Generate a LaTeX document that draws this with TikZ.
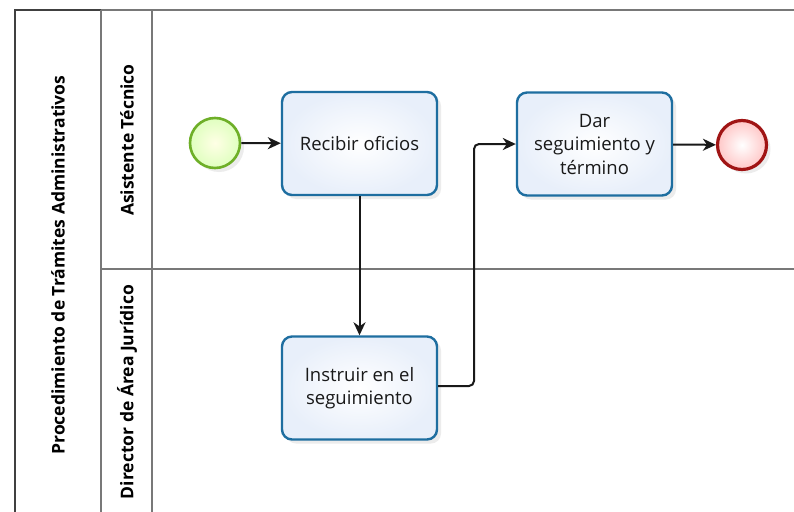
\documentclass[tikz,border=0pt]{standalone}
\usepackage{fontspec}
\setmainfont{Open Sans}
\usetikzlibrary{shadows,arrows.meta}
\definecolor{laneline}{RGB}{120,120,120}
\definecolor{taskblue}{RGB}{30,110,160}
\definecolor{taskfill}{RGB}{232,239,250}
\definecolor{startgreen}{RGB}{110,175,40}
\definecolor{endred}{RGB}{160,20,20}
\begin{document}
\begin{tikzpicture}[x=1pt,y=-1pt,
  lanestroke/.style={draw=laneline,line width=1.8pt},
  taskbox/.style={draw=taskblue,line width=2.4pt,rounded corners=10pt,
    inner color=white,outer color=taskfill,
    minimum width=155pt,minimum height=103pt,align=center,
    font=\fontsize{18.5}{23.5}\selectfont,text=black!90,
    drop shadow={shadow xshift=4pt,shadow yshift=-4pt,opacity=0.15}},
  startev/.style={circle,draw=startgreen,line width=2.6pt,minimum size=50pt,
    inner color=white!90!yellow,outer color=green!50!yellow!25,
    drop shadow={shadow xshift=4pt,shadow yshift=-4pt,opacity=0.15}},
  endev/.style={circle,draw=endred,line width=3.2pt,minimum size=49pt,
    inner color=white,outer color=red!22,
    drop shadow={shadow xshift=4pt,shadow yshift=-4pt,opacity=0.15}},
  flow/.style={draw=black!90,line width=2pt,-{Stealth[length=13pt,width=12pt,inset=4pt]}},
  headtext/.style={font=\bfseries\fontsize{17.5}{21}\selectfont,rotate=90}
]
\useasboundingbox (0,0) rectangle (794,511);
\fill[white] (0,0) rectangle (794,511);
% pool and lanes
\draw[lanestroke,draw=black!75] (15,515) -- (15,10) -- (101,10);
\draw[lanestroke] (101,10) -- (794,10);
\draw[lanestroke] (101,10) -- (101,515);
\draw[lanestroke] (152,10) -- (152,515);
\draw[lanestroke] (101,269) -- (794,269);
\node[headtext] (pool) at (58,265) {Procedimiento de Trámites Administrativos};
\node[headtext] (lane1) at (127,140) {Asistente Técnico};
\node[headtext] (lane2) at (127,392) {Director de Área Jurídico};
% elements
\node[startev] (start) at (215,143) {};
\node[taskbox] (recibir) at (359.5,143.5) {Recibir oficios};
\node[taskbox] (dar) at (594.5,144) {Dar\\seguimiento y\\término};
\node[endev] (end) at (742,145) {};
\node[taskbox] (instruir) at (359.5,388) {Instruir en el\\seguimiento};
% flows
\draw[flow] (start) -- (recibir);
\draw[flow] (recibir) -- (instruir);
\coordinate (c1) at (474,386);
\coordinate (c2) at (474,144);
\draw[flow,rounded corners=5pt] (instruir.east |- c1) -- (c1) -- (c2) -- (dar.west);
\draw[flow] (dar) -- (end);
\end{tikzpicture}
\end{document}
